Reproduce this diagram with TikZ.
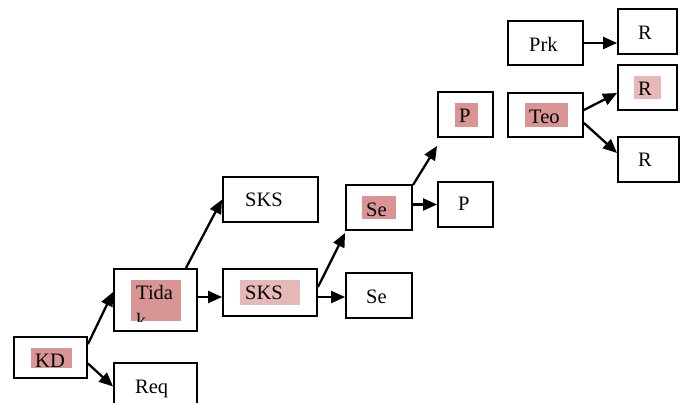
\documentclass[tikz,border=0pt]{standalone}
\usepackage{fontspec}
\setmainfont{Liberation Serif}
\usetikzlibrary{arrows.meta}
\definecolor{hidark}{HTML}{D99594}
\definecolor{hilight}{HTML}{E6B9B8}
\begin{document}
\begin{tikzpicture}[x=1pt,y=-1pt,
  box/.style={draw=black,line width=1.9pt,inner sep=0pt,rectangle},
  txt/.style={anchor=base west,inner sep=0pt,font=\fontsize{20.5}{24}\selectfont},
  conn/.style={line width=2.3pt,-{Triangle[length=14pt,width=12pt]}}]
\useasboundingbox (0,0) rectangle (690,403);
\clip (0,0) rectangle (690,403);
% boxes
\node[box,minimum width=73,minimum height=41] (KD) at (50.5,357.5) {};
\node[box,minimum width=83,minimum height=62] (Tidak) at (155.5,300) {};
\node[box,minimum width=83,minimum height=47] (Req) at (155.5,386.5) {};
\node[box,minimum width=95,minimum height=45] (SKSa) at (270.5,199.5) {};
\node[box,minimum width=94,minimum height=47] (SKSb) at (270,292.5) {};
\node[box,minimum width=66,minimum height=45] (Sea) at (379,207.5) {};
\node[box,minimum width=66,minimum height=45] (Seb) at (379,295.5) {};
\node[box,minimum width=55,minimum height=45] (Pa) at (465.5,114.5) {};
\node[box,minimum width=55,minimum height=45] (Pb) at (465.5,204.5) {};
\node[box,minimum width=75,minimum height=44] (Prk) at (545.5,43) {};
\node[box,minimum width=75,minimum height=44] (Teo) at (545.5,115) {};
\node[box,minimum width=59,minimum height=45] (Ra) at (647.5,31.5) {};
\node[box,minimum width=59,minimum height=45] (Rb) at (647.5,87.5) {};
\node[box,minimum width=61,minimum height=45] (Rc) at (648.5,159.5) {};
% highlights
\fill[hidark] (31,348) rectangle (72,368);
\fill[hidark] (131,280) rectangle (181,321);
\fill[hilight] (240,280) rectangle (300,305);
\fill[hidark] (362,196) rectangle (396,219);
\fill[hidark] (455,103) rectangle (478,127);
\fill[hidark] (525,103) rectangle (568,127);
\fill[hilight] (634,76) rectangle (661,99);
% texts
\node[txt] (tKD) at (35,367) {KD};
\node[txt] (tTida) at (136,299) {Tida};
\begin{scope}
\clip (131,280) rectangle (181,321);
\node[txt] (tk) at (136,327) {k};
\end{scope}
\node[txt] (tReq) at (135,393) {Req};
\node[txt] (tSKSa) at (245,207) {SKS};
\node[txt] (tSKSb) at (245,299) {SKS};
\node[txt] (tSea) at (366,217) {Se};
\node[txt] (tSeb) at (366,303) {Se};
\node[txt] (tPa) at (459,123) {P};
\node[txt] (tPb) at (458,211) {P};
\node[txt] (tPrk) at (529,52) {Prk};
\node[txt] (tTeo) at (529,124) {Teo};
\node[txt] (tRa) at (638,40) {R};
\node[txt] (tRb) at (638,96) {R};
\node[txt] (tRc) at (638,167) {R};
% connectors
\draw[conn] ([yshift=-8pt]KD.north east) -- ([yshift=8pt]Tidak.west);
\draw[conn] ([yshift=-6pt]KD.east) -- (Req.west);
\draw[conn] ([xshift=-12pt]Tidak.north east) -- (SKSa.west);
\draw[conn] ([yshift=3pt]Tidak.east) -- ([yshift=-4.5pt]SKSb.west);
\draw[conn] ([yshift=5.5pt]SKSb.east) -- ([yshift=-2pt]Sea.south west);
\draw[conn] ([yshift=-4.5pt]SKSb.east) -- ([yshift=-1.5pt]Seb.west);
\draw[conn] ([yshift=-1pt]Sea.north east) -- ([yshift=-8pt]Pa.south west);
\draw[conn] (Sea.east |- Pb.west) -- (Pb.west);
\draw[conn] (Prk.east) -- (Ra.west |- Prk.east);
\draw[conn] ([yshift=5pt]Teo.east) -- ([yshift=-5.5pt]Rb.west);
\draw[conn] ([yshift=-8pt]Teo.east) -- ([yshift=6.5pt]Rc.west);
\end{tikzpicture}
\end{document}
